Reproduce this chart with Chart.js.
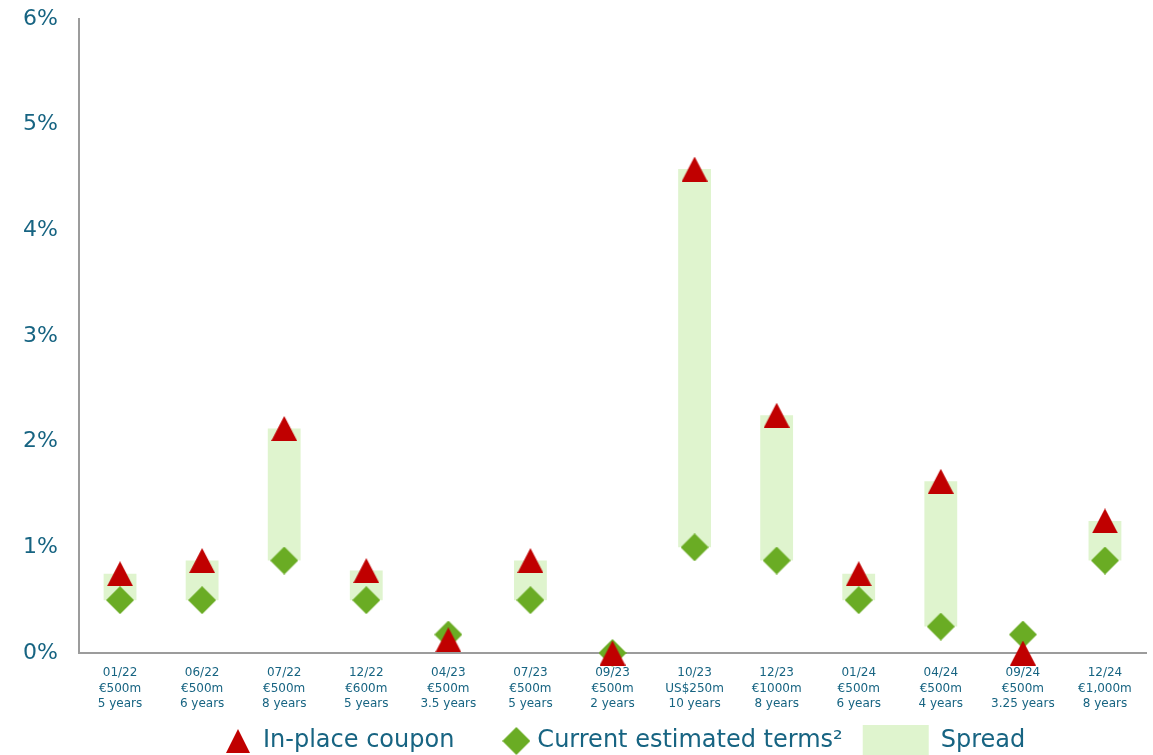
<!DOCTYPE html>
<html>
<head>
<meta charset="utf-8">
<script src="https://cdn.jsdelivr.net/npm/chart.js@4.4.1/dist/chart.umd.min.js"></script>
<style>
  html, body { margin: 0; padding: 0; background: #fff; }
  #wrap { width: 1153px; height: 755px; position: relative; }
</style>
</head>
<body>
<div id="wrap"><canvas id="bondChart"></canvas></div>
<script>
// issue date / size / tenor for each bond
const issueDates = ['01/22', '06/22', '07/22', '12/22', '04/23', '07/23', '09/23', '10/23', '12/23', '01/24', '04/24', '09/24', '12/24'];
const issueSizes = ['€500m', '€500m', '€500m', '€600m', '€500m', '€500m', '€500m', 'US$250m', '€1000m', '€500m', '€500m', '€500m', '€1,000m'];
const tenors = ['5 years', '6 years', '8 years', '5 years', '3.5 years', '5 years', '2 years', '10 years', '8 years', '6 years', '4 years', '3.25 years', '8 years'];

// values in %
const inPlaceCoupon = [0.75, 0.875, 2.125, 0.78, 0.125, 0.875, 0, 4.58, 2.25, 0.75, 1.625, 0, 1.25];
const estimatedTerms = [0.5, 0.5, 0.875, 0.5, 0.175, 0.5, 0, 1.0, 0.875, 0.5, 0.25, 0.175, 0.875];

const yTicks = [0, 1, 2, 3, 4, 5, 6];

const TEXT = '#176482';
const RED = '#c00000';
const GREEN = '#6aac24';
const SPREAD = '#dff4ce';
const FONT = "'DejaVu Sans', Verdana, sans-serif";

// marker images (centred on the point, like the excel markers)
function triangleImg(w, h) {
  const c = document.createElement('canvas');
  c.width = w; c.height = h;
  const g = c.getContext('2d');
  g.fillStyle = RED;
  g.beginPath();
  g.moveTo(w / 2, 0);
  g.lineTo(w, h);
  g.lineTo(0, h);
  g.closePath();
  g.fill();
  return c;
}
function diamondImg(s) {
  const c = document.createElement('canvas');
  c.width = s; c.height = s;
  const g = c.getContext('2d');
  g.fillStyle = GREEN;
  g.beginPath();
  g.moveTo(s / 2, 0);
  g.lineTo(s, s / 2);
  g.lineTo(s / 2, s);
  g.lineTo(0, s / 2);
  g.closePath();
  g.fill();
  return c;
}
const tri = triangleImg(26, 25);
const dia = diamondImg(28);

const labels = issueDates.map((d, i) => [d, issueSizes[i], tenors[i]]);
const spread = inPlaceCoupon.map((c, i) => (c > estimatedTerms[i] ? [estimatedTerms[i], c] : null));

// legend drawn by hand so the spread box can be wider than the markers
const bottomLegend = {
  id: 'bottomLegend',
  afterDraw(chart) {
    const ctx = chart.ctx;
    const y = 741;
    ctx.save();
    ctx.font = '24px ' + FONT;
    ctx.fillStyle = TEXT;
    ctx.textBaseline = 'middle';
    let x = 226;
    ctx.drawImage(triangleImg(24, 24), x, y - 12);
    x += 37;
    ctx.fillText('In-place coupon', x, y);
    x += ctx.measureText('In-place coupon').width + 48;
    ctx.drawImage(diamondImg(28), x, y - 14);
    x += 35;
    ctx.fillText('Current estimated terms²', x, y);
    x += ctx.measureText('Current estimated terms²').width + 20;
    ctx.fillStyle = SPREAD;
    ctx.fillRect(x, y - 16, 66, 32);
    x += 78;
    ctx.fillStyle = TEXT;
    ctx.fillText('Spread', x, y);
    ctx.restore();
  }
};

new Chart(document.getElementById('bondChart'), {
  type: 'bar',
  data: {
    labels: labels,
    datasets: [
      {
        type: 'line',
        label: 'In-place coupon',
        data: inPlaceCoupon,
        showLine: false,
        pointStyle: tri,
        pointRadius: 13,
        pointHoverRadius: 13,
        clip: false,
        order: 1
      },
      {
        type: 'line',
        label: 'Current estimated terms²',
        data: estimatedTerms,
        showLine: false,
        pointStyle: dia,
        pointRadius: 14,
        pointHoverRadius: 14,
        clip: false,
        order: 2
      },
      {
        label: 'Spread',
        data: spread,
        backgroundColor: SPREAD,
        borderWidth: 0,
        barPercentage: 0.4,
        categoryPercentage: 1,
        order: 3
      }
    ]
  },
  options: {
    responsive: true,
    maintainAspectRatio: false,
    animation: false,
    layout: { autoPadding: false, padding: { top: 19, right: 7, bottom: 44, left: 0 } },
    plugins: {
      legend: { display: false },
      tooltip: { enabled: false }
    },
    scales: {
      x: {
        grid: { display: true, drawOnChartArea: false, drawTicks: false },
        border: { display: true, color: '#9c9c9c', width: 2 },
        ticks: {
          color: TEXT,
          font: { family: FONT, size: 12, lineHeight: 1.3 },
          padding: 12,
          maxRotation: 0,
          autoSkip: false
        },
        afterFit: (s) => { s.height = 58; }
      },
      y: {
        min: 0,
        max: 6,
        afterBuildTicks: (s) => { s.ticks = yTicks.map(v => ({ value: v })); },
        grid: { display: true, drawOnChartArea: false, drawTicks: false },
        border: { display: true, color: '#9c9c9c', width: 2 },
        ticks: {
          color: TEXT,
          font: { family: FONT, size: 22 },
          padding: 21,
          callback: (v) => v + '%'
        },
        // fixed width, and no extra room above the top label
        afterFit: (s) => { s.width = 79; s.paddingTop = 0; s.paddingBottom = 0; }
      }
    }
  },
  plugins: [bottomLegend]
});
</script>
</body>
</html>
